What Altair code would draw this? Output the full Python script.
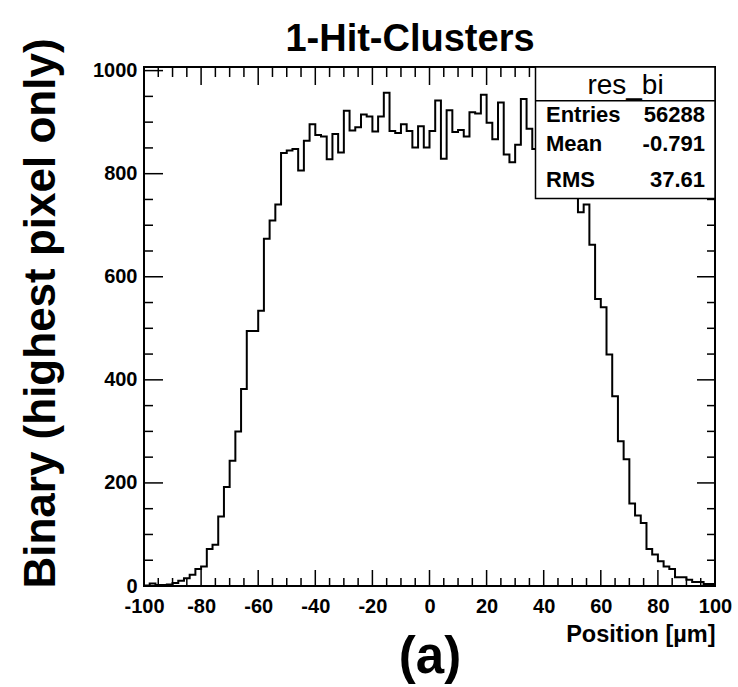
import altair as alt
import numpy as np
import pandas as pd

FONT = "Liberation Sans"

# Histogram "res_bi": counts per 2 um bin from -100 um to +100 um
bin_lo, bin_hi, bin_w = -100, 100, 2
counts = [
    1, 5, 2, 2, 3, 6, 10, 15, 22, 33,                  # -100 .. -82
    38, 72, 80, 135, 192, 243, 300, 382, 495, 495,     # -80 .. -62
    534, 674, 709, 740, 840, 845, 848, 806, 864, 896,  # -60 .. -42
    875, 872, 828, 877, 841, 922, 884, 890, 915, 911,  # -40 .. -22
    882, 911, 957, 883, 879, 896, 883, 851, 892, 851,  # -20 .. -2
    883, 942, 829, 923, 881, 885, 872, 919, 917, 953,  # 0 .. 18
    899, 867, 938, 837, 822, 856, 945, 887, 848, 805,  # 20 .. 38
    860, 880, 850, 870, 830, 790, 725, 740, 662, 557,  # 40 .. 58
    541, 449, 368, 281, 246, 160, 137, 122, 72, 61,    # 60 .. 78
    48, 38, 33, 17, 17, 12, 8, 8, 4, 4,                # 80 .. 98
]

# Statistics box contents
stats_name = "res_bi"
stats_rows = [("Entries", "56288"), ("Mean", "-0.791"), ("RMS", "37.61")]

# Axis ticks
x_major = list(range(-100, 101, 20))
x_minor = [v for v in range(-100, 101, 5) if v % 20 != 0]
y_major = list(range(0, 1001, 200))
y_minor = [v for v in range(0, 1001, 50) if v % 200 != 0]

title_text = "1-Hit-Clusters"
x_title = "Position [\u00b5m]"
y_title = "Binary (highest pixel only)"
panel_tag = "(a)"

# Plot-area size in pixels
W, H = 571, 519

edges = list(np.arange(bin_lo, bin_hi, bin_w)) + [bin_hi]
hist_df = pd.DataFrame({"pos": edges, "n": counts + [counts[-1]]})

x_scale = alt.Scale(domain=[bin_lo, bin_hi], nice=False, zero=False)
y_scale = alt.Scale(domain=[0, 1007], nice=False, zero=False)

x_axis = alt.Axis(
    values=x_major, labelExpr="toString(datum.value)", ticks=False, domain=False,
    grid=False, labelFlush=False, labelOverlap=False, labelFont=FONT,
    labelFontWeight="bold", labelFontSize=20, labelColor="black", labelPadding=10,
    title=x_title, titleFont=FONT, titleFontSize=23.5, titleFontWeight="bold",
    titleColor="black", titleX=W, titleY=55, titleAlign="right",
    titleBaseline="alphabetic", titleAnchor="end",
)
y_axis = alt.Axis(
    values=y_major, labelExpr="toString(datum.value)", ticks=False, domain=False,
    grid=False, labelFlush=False, labelOverlap=False, labelFont=FONT,
    labelFontWeight="bold", labelFontSize=20, labelColor="black", labelPadding=7,
    title=y_title, titleFont=FONT, titleFontSize=44, titleFontWeight="bold",
    titleColor="black", titleX=-90, titleY=246, titleAngle=270,
    titleAlign="center", titleBaseline="alphabetic", titleAnchor="middle",
)

hist = alt.Chart(hist_df).mark_line(
    interpolate="step-after", color="black", strokeWidth=2
).encode(
    x=alt.X("pos:Q", scale=x_scale, axis=x_axis),
    y=alt.Y("n:Q", scale=y_scale, axis=y_axis),
)


def x_ticks(vals, length, top):
    y0 = 0 if top else H
    y1 = length if top else H - length
    return alt.Chart(pd.DataFrame({"pos": vals})).mark_rule(
        color="black", strokeWidth=1.5
    ).encode(
        x=alt.X("pos:Q", scale=x_scale, axis=x_axis),
        y=alt.value(y0), y2=alt.value(y1),
    )


def y_ticks(vals, length, right):
    x0 = W if right else 0
    x1 = W - length if right else length
    return alt.Chart(pd.DataFrame({"n": vals})).mark_rule(
        color="black", strokeWidth=1.5
    ).encode(
        y=alt.Y("n:Q", scale=y_scale, axis=y_axis),
        x=alt.value(x0), x2=alt.value(x1),
    )


def label(text, x, y, size, weight="bold", align="left"):
    return alt.Chart(pd.DataFrame({"s": [text]})).mark_text(
        font=FONT, fontSize=size, fontWeight=weight, align=align,
        baseline="alphabetic", color="black",
    ).encode(x=alt.value(x), y=alt.value(y), text="s:N")


ticks = [
    x_ticks(x_major, 16, False), x_ticks(x_minor, 8, False),
    x_ticks(x_major, 18, True), x_ticks(x_minor, 10, True),
    y_ticks(y_major, 19, False), y_ticks(y_minor, 9, False),
    y_ticks(y_major, 18, True), y_ticks(y_minor, 8, True),
]

# Statistics box in the upper-right corner
box_left, box_bottom, head_bottom = 391.5, 131.5, 33.7
one = pd.DataFrame({"k": [0]})
box = alt.Chart(one).mark_rect(
    fill="white", stroke="black", strokeWidth=1.5
).encode(
    x=alt.value(box_left), x2=alt.value(W), y=alt.value(0), y2=alt.value(box_bottom)
)
divider = alt.Chart(one).mark_rule(color="black", strokeWidth=1.5).encode(
    x=alt.value(box_left), x2=alt.value(W), y=alt.value(head_bottom)
)
stats_text = [label(stats_name, 481.5, 26.5, 28, weight="normal", align="center")]
row_base = [54.7, 83.7, 119.7]
for (name, val), yb in zip(stats_rows, row_base):
    stats_text.append(label(name, 402, yb, 22))
    stats_text.append(label(val, 561, yb, 22, align="right"))

heading = label(title_text, 266, -16, 38, align="center")
tag = label(panel_tag, 286, 606, 51, align="center")

chart = alt.layer(
    hist, *ticks, box, divider, *stats_text, heading, tag
).properties(
    width=W, height=H,
    autosize=alt.AutoSizeParams(type="none"),
    padding={"left": 144, "top": 67, "right": 738 - 144 - W, "bottom": 687 - 67 - H},
    background="white",
).configure_view(stroke="black", strokeWidth=2)

chart.save("out.html", embed_options={"renderer": "svg", "actions": False})
